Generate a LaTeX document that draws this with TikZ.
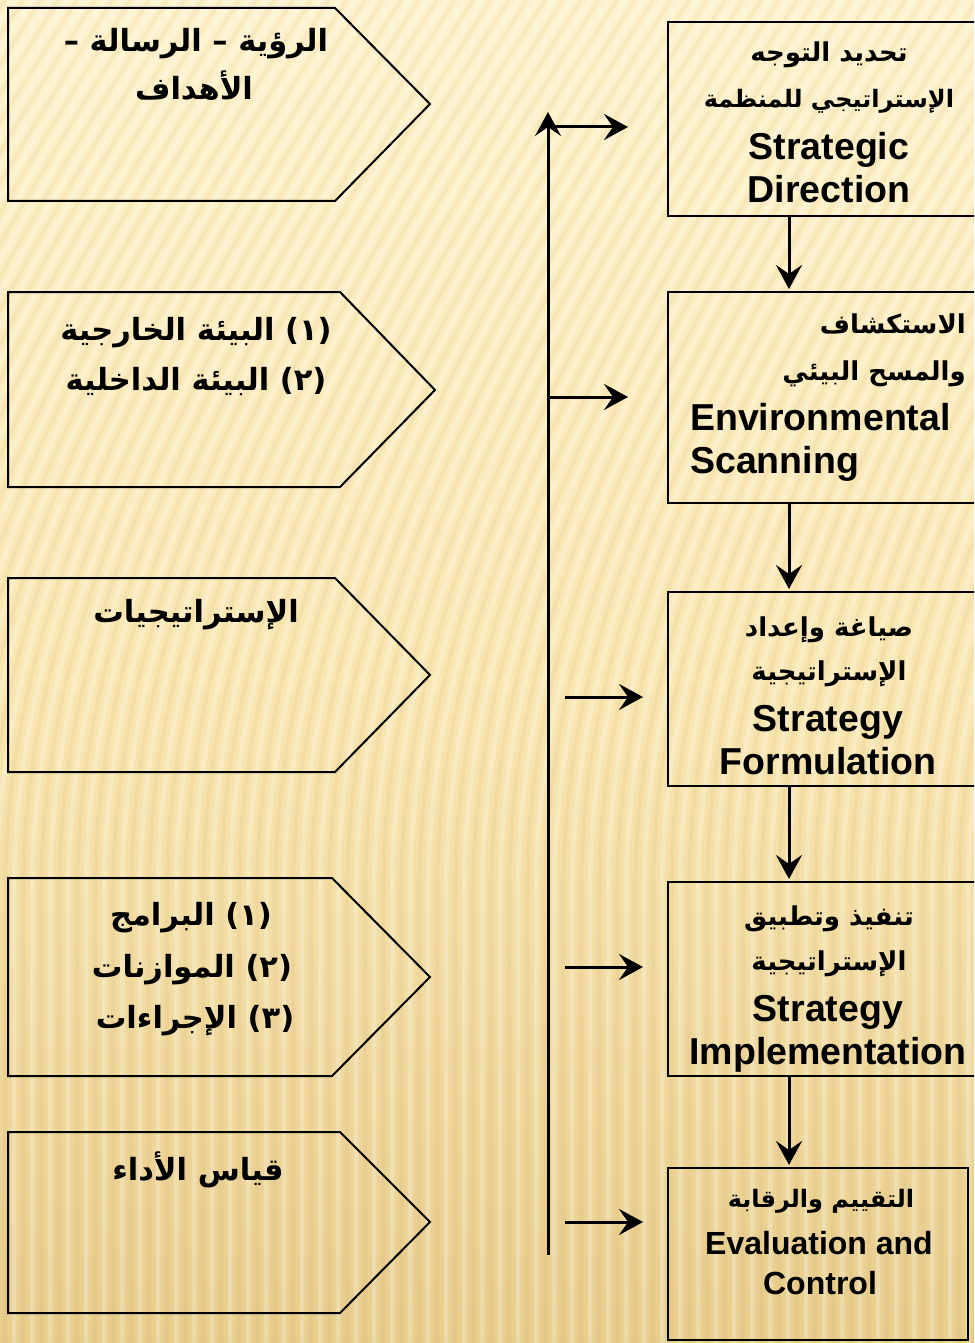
\documentclass[tikz,border=0pt]{standalone}
\usepackage{fontspec}
\setmainfont{Liberation Sans}
\newfontfamily\arabicfont[Script=Arabic]{DejaVu Sans}
\TeXXeTstate=1
\usetikzlibrary{arrows.meta}
\definecolor{bgtop}{RGB}{253,242,203}
\definecolor{bgmid}{RGB}{249,231,178}
\definecolor{bgbot}{RGB}{231,205,140}
\newcommand\AR[1]{\beginR#1\endR}
\newcommand\LR[1]{\beginL#1\endL{}}
\begin{document}
\begin{tikzpicture}[x=1pt,y=-1pt,
  pent/.style={draw=black, line width=2pt, line join=miter},
  rbox/.style={draw=black, line width=2pt, rectangle, inner sep=0pt, outer sep=0pt},
  arr/.style={line width=3pt, -{Stealth[length=24pt,width=26pt,inset=9pt]}},
  ar/.style={font=\arabicfont\bfseries\fontsize{30.5}{36}\selectfont, inner sep=0pt, anchor=base},
  arr2/.style={font=\arabicfont\bfseries\fontsize{26}{32}\selectfont, inner sep=0pt, anchor=base},
  en/.style={font=\bfseries\fontsize{37.5}{45}\selectfont, inner sep=0pt, anchor=base},
  ens/.style={font=\bfseries\fontsize{32}{40}\selectfont, inner sep=0pt, anchor=base}]
\path[use as bounding box] (0,0) rectangle (974,1343);
\clip (0,0) rectangle (974,1343);
% background
\shade[top color=bgtop, bottom color=bgbot, middle color=bgmid] (0,0) rectangle (974,1343);
\foreach \x in {-400,-382,...,990} {
  \draw[white, opacity=0.25, line width=5pt] (\x,1343) -- (\x,900) .. controls (\x,650) and (\x+90,420) .. (\x+360,0);
  \draw[brown, opacity=0.07, line width=4pt] (\x+9,1343) -- (\x+9,900) .. controls (\x+9,650) and (\x+99,420) .. (\x+369,0);
}
% left pentagons
\draw[pent] (8,8) -- (335,8) -- (430,104) -- (335,201) -- (8,201) -- cycle;
\draw[pent] (8,292) -- (340,292) -- (435,390) -- (340,487) -- (8,487) -- cycle;
\draw[pent] (8,578) -- (335,578) -- (430,675) -- (335,772) -- (8,772) -- cycle;
\draw[pent] (8,878) -- (332,878) -- (430,977) -- (332,1076) -- (8,1076) -- cycle;
\draw[pent] (8,1132) -- (340,1132) -- (430,1222) -- (340,1313) -- (8,1313) -- cycle;
% pentagon texts
\node[ar] (p1a) at (196,52) {\AR{الرؤية – الرسالة –}};
\node[ar] (p1b) at (194,100) {\AR{الأهداف}};
\node[ar] (p2a) at (196,340) {\AR{\LR{(١)} البيئة الخارجية}};
\node[ar] (p2b) at (196,390) {\AR{\LR{(٢)} البيئة الداخلية}};
\node[ar] (p3a) at (196,622) {\AR{الإستراتيجيات}};
\node[ar] (p4a) at (191,925) {\AR{\LR{(١)} البرامج}};
\node[ar] (p4b) at (192,977) {\AR{\LR{(٢)} الموازنات}};
\node[ar] (p4c) at (195,1028) {\AR{\LR{(٣)} الإجراءات}};
\node[ar] (p5a) at (198,1180) {\AR{قياس الأداء}};
% right boxes
\node[rbox, minimum width=310pt, minimum height=194pt] (r1) at (823,119) {};
\node[rbox, minimum width=310pt, minimum height=211pt] (r2) at (823,397.5) {};
\node[rbox, minimum width=310pt, minimum height=194pt] (r3) at (823,689) {};
\node[rbox, minimum width=310pt, minimum height=194pt] (r4) at (823,979) {};
\node[rbox, minimum width=300pt, minimum height=172pt] (r5) at (818,1254) {};
% right box texts
\node[arr2] (r1a) at (829,62) {\AR{تحديد التوجه}};
\node[arr2, font=\arabicfont\bfseries\fontsize{24}{30}\selectfont] (r1b) at (829,108) {\AR{الإستراتيجي للمنظمة}};
\node[en] (r1c) at (829,160) {Strategic};
\node[en] (r1d) at (829,203) {Direction};
\node[arr2, anchor=base east] (r2a) at (966,333) {\AR{الاستكشاف}};
\node[arr2, anchor=base east] (r2b) at (966,380) {\AR{والمسح البيئي}};
\node[en, anchor=base west] (r2c) at (690,430) {Environmental};
\node[en, anchor=base west] (r2d) at (690,473) {Scanning};
\node[arr2] (r3a) at (829,636) {\AR{صياغة وإعداد}};
\node[arr2] (r3b) at (829,680) {\AR{الإستراتيجية}};
\node[en] (r3c) at (828,731) {Strategy};
\node[en] (r3d) at (828,774) {Formulation};
\node[arr2] (r4a) at (829,925) {\AR{تنفيذ وتطبيق}};
\node[arr2] (r4b) at (829,970) {\AR{الإستراتيجية}};
\node[en] (r4c) at (828,1021) {Strategy};
\node[en] (r4d) at (828,1064) {Implementation};
\node[arr2, font=\arabicfont\bfseries\fontsize{24}{30}\selectfont] (r5a) at (821,1207) {\AR{التقييم والرقابة}};
\node[ens] (r5b) at (819,1254) {Evaluation and};
\node[ens] (r5c) at (820,1294) {Control};
% down connectors
\coordinate (cx) at (789,0);
\draw[arr] (r1.south -| cx) -- ([yshift=3pt]r2.north -| cx);
\draw[arr] (r2.south -| cx) -- ([yshift=3pt]r3.north -| cx);
\draw[arr] (r3.south -| cx) -- ([yshift=3pt]r4.north -| cx);
\draw[arr] (r4.south -| cx) -- ([yshift=3pt]r5.north -| cx);
% vertical line and side arrows
\coordinate (vbot) at (548,1255);
\coordinate (vtop) at (548,112);
\draw[arr] (vbot) -- (vtop);
\coordinate (h1s) at (548,127);  \coordinate (h1e) at (628,127);
\coordinate (h2s) at (548,397);  \coordinate (h2e) at (628,397);
\coordinate (h3s) at (565,697);  \coordinate (h3e) at (643,697);
\coordinate (h4s) at (565,967);  \coordinate (h4e) at (643,967);
\coordinate (h5s) at (565,1222); \coordinate (h5e) at (643,1222);
\draw[arr] (h1s) -- (h1e);
\draw[arr] (h2s) -- (h2e);
\draw[arr] (h3s) -- (h3e);
\draw[arr] (h4s) -- (h4e);
\draw[arr] (h5s) -- (h5e);
\end{tikzpicture}
\end{document}
